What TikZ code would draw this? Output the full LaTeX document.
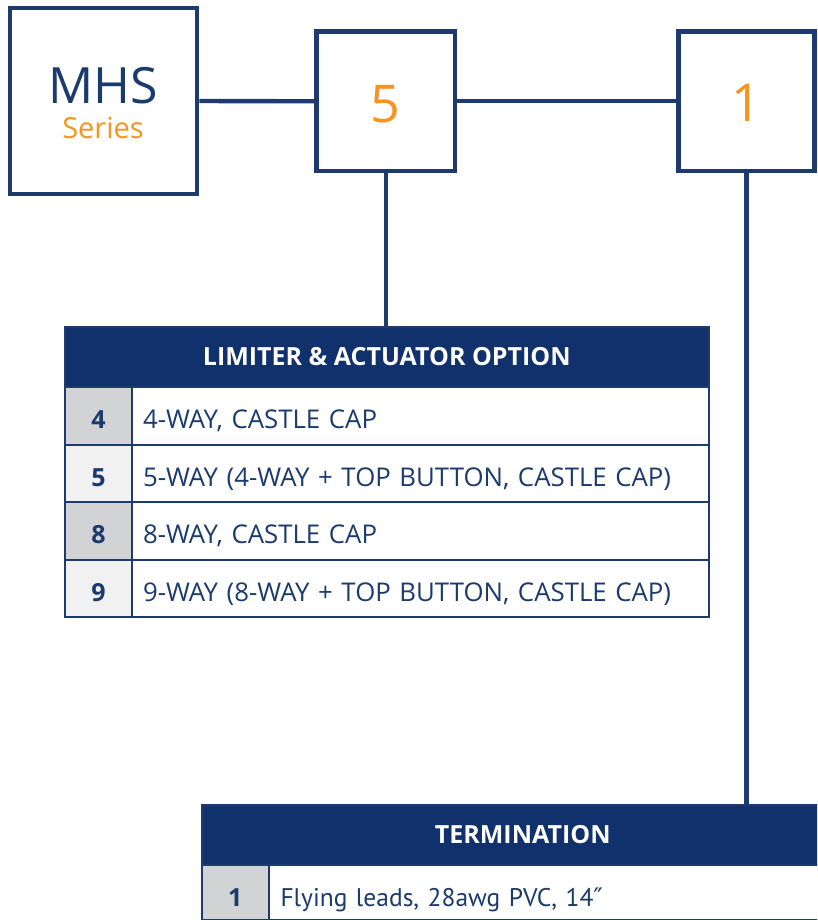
\documentclass[tikz,border=0pt]{standalone}
\usepackage{fontspec}
\setmainfont{Open Sans}
\newfontfamily\condfont{PT Sans}
\newfontfamily\symfont{DejaVu Sans}
\definecolor{navy}{HTML}{1F3A6E}
\definecolor{hdrblue}{HTML}{10316C}
\definecolor{txtblue}{HTML}{1B3A6E}
\definecolor{orng}{HTML}{F7941D}
\definecolor{grayA}{HTML}{D1D3D5}
\definecolor{grayB}{HTML}{F1F1F2}
\begin{document}
\begin{tikzpicture}[x=1pt,y=-1pt,
  box/.style={draw=navy,line width=4.6pt,fill=white,inner sep=0pt},
  link/.style={draw=navy,line width=4.4pt},
  hdrcell/.style={fill=hdrblue,draw=navy,line width=1.5pt,inner sep=0pt,anchor=north west,
    text=white,font=\bfseries\fontsize{25}{26}\selectfont,text height=18pt,text depth=0pt},
  numcell/.style={draw=navy,line width=2pt,inner sep=0pt,anchor=north west,text=txtblue,
    font=\bfseries\fontsize{25}{26}\selectfont,text height=26pt,text depth=0pt},
  txtcell/.style={draw=navy,line width=2pt,fill=white,anchor=north west,inner xsep=11pt,inner ysep=0pt,
    text=txtblue,font=\fontsize{25.8}{26}\selectfont,align=left,text height=26pt,text depth=0pt},
  bigtxt/.style={anchor=base,inner sep=0pt}
]
\useasboundingbox (0,0) rectangle (817,920);
\clip (0,0) rectangle (817,920);
% top boxes
\node[box,minimum width=187pt,minimum height=186pt] (mhs) at (103.5,101) {};
\node[bigtxt,text=txtblue,font=\fontsize{50}{50}\selectfont] (mhst) at (103.5,104) {MHS};
\node[bigtxt,text=orng,font=\fontsize{29}{30}\selectfont] (sert) at (103,138.3) {Series};
\node[box,minimum width=138.5pt,minimum height=139.5pt] (b5) at (385.8,101.3) {};
\node[bigtxt,text=orng,font=\fontsize{52}{52}\selectfont] (b5t) at (385.8,122.7) {5};
\node[box,minimum width=135.8pt,minimum height=139.5pt] (b1) at (746.4,101.3) {};
\node[bigtxt,text=orng,font=\fontsize{52}{52}\selectfont] (b1t) at (746.6,121.7) {1};
\draw[link] (mhs.east) -- (b5.west);
\draw[link] (b5.east) -- (b1.west);
% table 1
\node[hdrcell,minimum width=644pt,minimum height=60pt] (h1) at (64,326) {LIMITER \& ACTUATOR OPTION};
\node[numcell,fill=grayA,minimum width=67pt,minimum height=57.5pt] (n4) at (64,386) {4};
\node[txtcell,text width=555pt,minimum height=57.5pt] (r4) at (131,386) {4-WAY, CASTLE CAP};
\node[numcell,fill=grayB,minimum width=67pt,minimum height=57.5pt] (n5) at (64,443.5) {5};
\node[txtcell,text width=555pt,minimum height=57.5pt] (r5) at (131,443.5) {5-WAY (4-WAY + TOP BUTTON, CASTLE CAP)};
\node[numcell,fill=grayA,minimum width=67pt,minimum height=57.5pt] (n8) at (64,501) {8};
\node[txtcell,text width=555pt,minimum height=57.5pt] (r8) at (131,501) {8-WAY, CASTLE CAP};
\node[numcell,fill=grayB,minimum width=67pt,minimum height=57.5pt] (n9) at (64,558.5) {9};
\node[txtcell,text width=555pt,minimum height=57.5pt] (r9) at (131,558.5) {9-WAY (8-WAY + TOP BUTTON, CASTLE CAP)};
% table 2
\node[hdrcell,minimum width=642pt,minimum height=60pt] (h2) at (201,804) {TERMINATION};
\node[numcell,fill=grayA,minimum width=66.5pt,minimum height=55pt,text height=27pt] (n1) at (201,864) {1};
\node[txtcell,text width=553pt,minimum height=55pt,inner xsep=12pt,text height=27pt,font=\condfont\fontsize{25.5}{27}\selectfont] (r1) at (267.5,864) {Flying leads, 28awg PVC, 14{\symfont ″}};
% vertical connectors
\draw[link] (b5.south) -- (h1.north -| b5.south);
\draw[link] (b1.south) -- (h2.north -| b1.south);
\end{tikzpicture}
\end{document}
